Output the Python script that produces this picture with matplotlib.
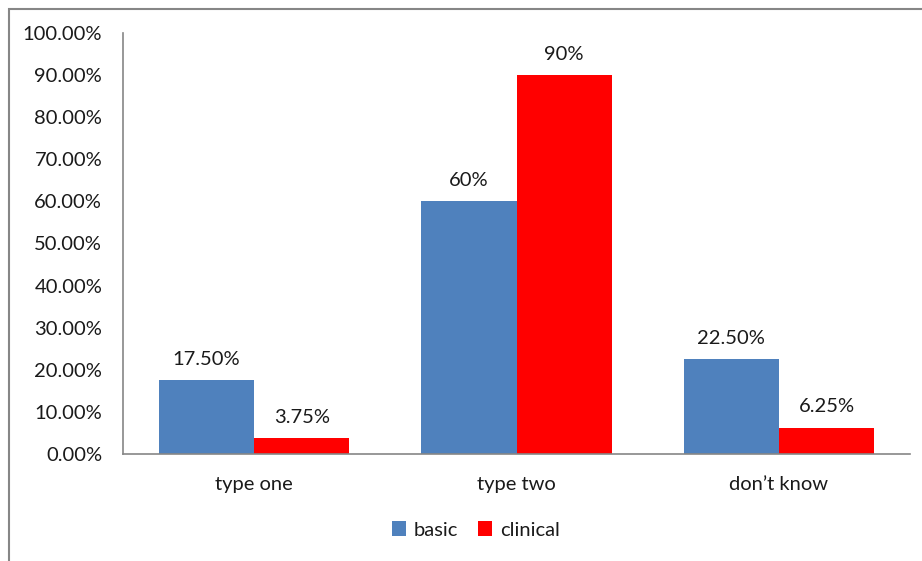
import numpy as np
import matplotlib.pyplot as plt
from matplotlib.patches import Rectangle

categories = ['type one', 'type two', 'don\u2019t know']
basic = [17.50, 60.0, 22.50]
clinical = [3.75, 90.0, 6.25]
basic_labels = ['17.50%', '60%', '22.50%']
clinical_labels = ['3.75%', '90%', '6.25%']
yticks = np.arange(0, 101, 10)

plt.rcParams['font.family'] = ['Lato', 'DejaVu Sans']

W, H = 922, 561
fig = plt.figure(figsize=(W / 100, H / 100), dpi=100)

# outer chart frame (only top and left edges fall inside the image)
fig.patches.append(Rectangle((9 / W, -0.1), 1.2, (H - 9) / H + 0.1,
                             transform=fig.transFigure, fill=False,
                             edgecolor='#868686', linewidth=1.5))

ax = fig.add_axes([123 / W, (H - 454) / H, (910 - 123) / W, (454 - 33) / H])

fs = 14.5
x = np.arange(len(categories))
bw = 0.363
b1 = ax.bar(x - bw / 2, basic, bw, color='#4f81bd', label='basic')
b2 = ax.bar(x + bw / 2, clinical, bw, color='#ff0000', label='clinical')

for bars, labs in ((b1, basic_labels), (b2, clinical_labels)):
    for rect, lab in zip(bars, labs):
        ax.annotate(lab, (rect.get_x() + rect.get_width() / 2, rect.get_height()),
                    xytext=(0, 9), textcoords='offset points',
                    ha='center', va='bottom', fontsize=fs, color='#1a1a1a')

ax.set_xlim(-0.5, 2.5)
ax.set_ylim(0, 100)
ax.set_yticks(yticks)
ax.set_yticklabels(['%.2f%%' % v for v in yticks], fontsize=fs, color='#1a1a1a')
ax.set_xticks(x)
ax.set_xticklabels(categories, fontsize=fs, color='#1a1a1a')
ax.tick_params(axis='both', length=0)
ax.tick_params(axis='y', pad=15)
ax.tick_params(axis='x', pad=16)

for s in ('top', 'right'):
    ax.spines[s].set_visible(False)
for s in ('left', 'bottom'):
    ax.spines[s].set_color('#868686')
    ax.spines[s].set_linewidth(1.2)

ax.legend(loc='center', bbox_to_anchor=(476 / W, (H - 530) / H),
          bbox_transform=fig.transFigure, ncol=2, frameon=False,
          fontsize=fs, handlelength=0.7, handleheight=0.7,
          handletextpad=0.4, columnspacing=1.0, labelcolor='#1a1a1a')

fig.savefig('out.png', dpi=100)
